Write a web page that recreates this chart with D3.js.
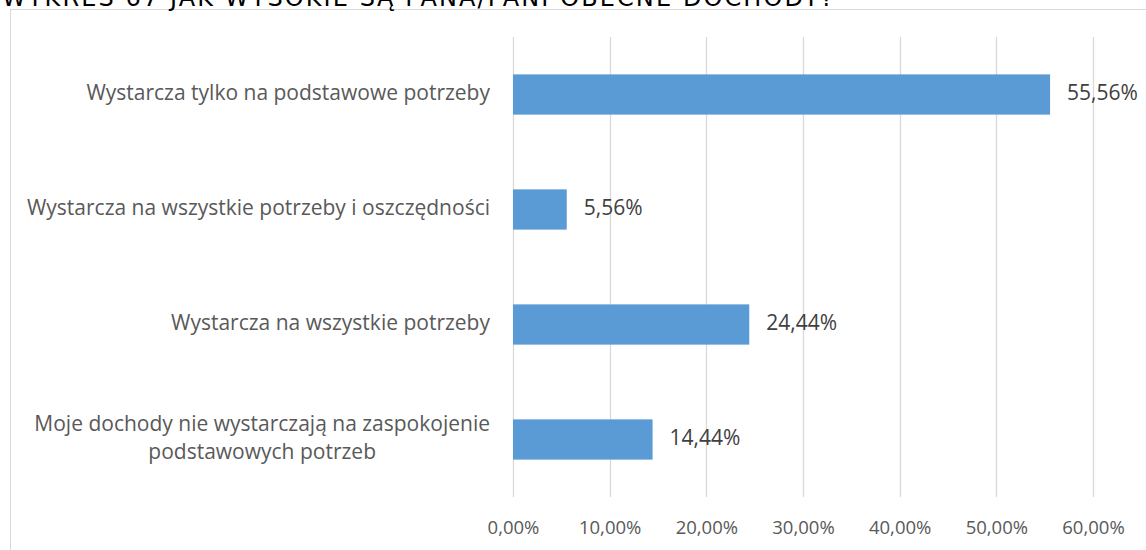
<!DOCTYPE html>
<html>
<head>
<meta charset="utf-8">
<script src="https://cdn.jsdelivr.net/npm/d3@7"></script>
<style>
  html, body { margin: 0; padding: 0; background: #fff; }
  svg { display: block; }
</style>
</head>
<body>
<svg id="chart" width="1146" height="550"></svg>
<script>
// Income adequacy survey — share of respondents per answer
const categories = [
  "Wystarcza tylko na podstawowe potrzeby",
  "Wystarcza na wszystkie potrzeby i oszczędności",
  "Wystarcza na wszystkie potrzeby",
  "Moje dochody nie wystarczają na zaspokojenie podstawowych potrzeb"
];
const values = [55.56, 5.56, 24.44, 14.44];
const tickValues = [0, 10, 20, 30, 40, 50, 60];
const title = "WYKRES 67 JAK WYSOKIE SĄ PANA/PANI OBECNE DOCHODY?";

const fmt = v => v.toFixed(2).replace(".", ",") + "%";

const svg = d3.select("#chart");
const W = 1146, H = 550;
const plot = { left: 513, right: 1093, top: 37, bottom: 497 };
const labelFont = "'Open Sans', sans-serif";
const catSize = 21, valSize = 21, tickSize = 18.5;

// chart frame
svg.append("rect")
  .attr("x", 10.5).attr("y", 9.5)
  .attr("width", W).attr("height", H)
  .attr("fill", "#fff").attr("stroke", "#d9d9d9").attr("stroke-width", 1);

// heading, partly clipped at the top edge
svg.append("text")
  .attr("x", 2).attr("y", 6)
  .attr("font-family", "'DejaVu Sans', sans-serif")
  .attr("font-size", 24)
  .attr("letter-spacing", 2.1)
  .attr("fill", "#000")
  .text(title);

const x = d3.scaleLinear().domain([0, 60]).range([plot.left, plot.right]);
const y = d3.scaleBand().domain(categories)
  .range([plot.top, plot.bottom])
  .paddingInner(0.65).paddingOuter(0.325);

// vertical gridlines
svg.append("g")
  .selectAll("line")
  .data(tickValues)
  .join("line")
  .attr("x1", d => Math.round(x(d)) + 0.5).attr("x2", d => Math.round(x(d)) + 0.5)
  .attr("y1", plot.top).attr("y2", plot.bottom)
  .attr("stroke", "#d9d9d9").attr("stroke-width", 1.3);

// bottom axis tick labels
const xAxis = d3.axisBottom(x).tickValues(tickValues).tickFormat(fmt).tickSize(0).tickPadding(0);
const gx = svg.append("g").attr("transform", `translate(0,${plot.bottom})`).call(xAxis);
gx.select(".domain").remove();
gx.selectAll(".tick text")
  .attr("y", 529 - plot.bottom).attr("dy", 0)
  .attr("dominant-baseline", "middle")
  .attr("font-family", labelFont).attr("font-size", tickSize)
  .attr("fill", "#595959");

// bars
svg.append("g")
  .selectAll("rect")
  .data(values)
  .join("rect")
  .attr("x", x(0))
  .attr("y", (d, i) => y(categories[i]))
  .attr("width", d => x(d) - x(0))
  .attr("height", y.bandwidth())
  .attr("fill", "#5b9bd5");

// value labels
svg.append("g")
  .selectAll("text")
  .data(values)
  .join("text")
  .attr("x", d => x(d) + 17)
  .attr("y", (d, i) => y(categories[i]) + y.bandwidth() / 2)
  .attr("dominant-baseline", "middle")
  .attr("font-family", labelFont).attr("font-size", valSize)
  .attr("fill", "#404040")
  .text(fmt);

// category labels, wrapped where too long
const labelRight = 490, maxWidth = 480;
const catG = svg.append("g");
const measure = s => {
  const t = catG.append("text").attr("font-family", labelFont).attr("font-size", catSize).text(s);
  const w = t.node().getComputedTextLength();
  t.remove();
  return w;
};
categories.forEach(c => {
  const cy = y(c) + y.bandwidth() / 2;
  if (measure(c) <= maxWidth) {
    catG.append("text")
      .attr("x", labelRight).attr("y", cy)
      .attr("text-anchor", "end").attr("dominant-baseline", "middle")
      .attr("font-family", labelFont).attr("font-size", catSize)
      .attr("fill", "#595959").text(c);
  } else {
    const words = c.split(" ");
    const lines = [];
    let line = [];
    words.forEach(wd => {
      if (measure(line.concat(wd).join(" ")) > maxWidth && line.length) {
        lines.push(line.join(" ")); line = [wd];
      } else line.push(wd);
    });
    lines.push(line.join(" "));
    const blockW = d3.max(lines, measure);
    const lh = 28;
    lines.forEach((l, k) => {
      catG.append("text")
        .attr("x", labelRight - blockW / 2)
        .attr("y", cy + (k - (lines.length - 1) / 2) * lh)
        .attr("text-anchor", "middle").attr("dominant-baseline", "middle")
        .attr("font-family", labelFont).attr("font-size", catSize)
        .attr("fill", "#595959").text(l);
    });
  }
});
</script>
</body>
</html>
